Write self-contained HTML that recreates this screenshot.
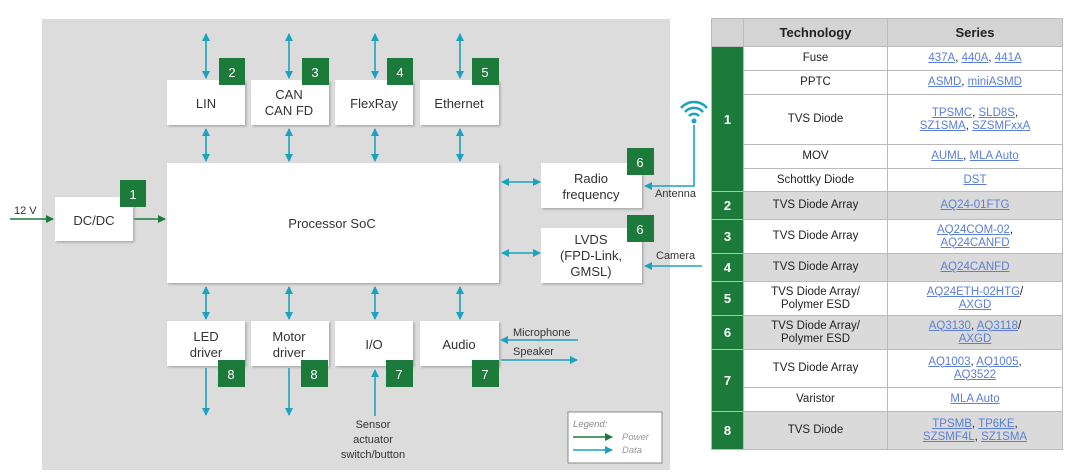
<!DOCTYPE html>
<html><head><meta charset="utf-8"><style>
body{margin:0;width:1080px;height:474px;background:#fff;overflow:hidden;font-family:"Liberation Sans",sans-serif}
svg{position:absolute;left:0;top:0}
table{position:absolute;left:711px;top:18px;border-collapse:collapse;font-size:11.5px;color:#222}
td{border:1px solid #bbb;text-align:center;padding:0;line-height:13px}
td.n{background:#1c7a3a;color:#fff;font-weight:bold;font-size:13px;width:29px;border-color:#bbb}
td.t{width:143px}
td.s{width:174px}
a{color:#5b7ed6;text-decoration:underline}
tr.g td.t,tr.g td.s{background:#dadada}
th{background:#d4d4d4;border:1px solid #bbb;font-size:13px;height:25px}
</style></head><body>
<svg width="1080" height="474">
<defs>
<marker id="b" markerWidth="8" markerHeight="8" refX="7" refY="4" orient="auto-start-reverse" markerUnits="userSpaceOnUse"><path d="M0,0 L8,4 L0,8z" fill="#1aa3c0"/></marker>
<marker id="g" markerWidth="8" markerHeight="8" refX="7" refY="4" orient="auto" markerUnits="userSpaceOnUse"><path d="M0,0 L8,4 L0,8z" fill="#1c7a3a"/></marker>
<filter id="sh"><feDropShadow dx="1.5" dy="1.5" stdDeviation="1" flood-color="#888" flood-opacity="0.6"/></filter>
</defs>
<rect x="42" y="19" width="628" height="451" fill="#dcdcdc"/>
<g stroke="#1aa3c0" stroke-width="1.6" fill="none">
<line x1="206" y1="34" x2="206" y2="78" marker-start="url(#b)" marker-end="url(#b)"/>
<line x1="289" y1="34" x2="289" y2="78" marker-start="url(#b)" marker-end="url(#b)"/>
<line x1="375" y1="34" x2="375" y2="78" marker-start="url(#b)" marker-end="url(#b)"/>
<line x1="460" y1="34" x2="460" y2="78" marker-start="url(#b)" marker-end="url(#b)"/>
<line x1="206" y1="129" x2="206" y2="161" marker-start="url(#b)" marker-end="url(#b)"/>
<line x1="289" y1="129" x2="289" y2="161" marker-start="url(#b)" marker-end="url(#b)"/>
<line x1="375" y1="129" x2="375" y2="161" marker-start="url(#b)" marker-end="url(#b)"/>
<line x1="460" y1="129" x2="460" y2="161" marker-start="url(#b)" marker-end="url(#b)"/>
<line x1="206" y1="287" x2="206" y2="319" marker-start="url(#b)" marker-end="url(#b)"/>
<line x1="289" y1="287" x2="289" y2="319" marker-start="url(#b)" marker-end="url(#b)"/>
<line x1="375" y1="287" x2="375" y2="319" marker-start="url(#b)" marker-end="url(#b)"/>
<line x1="460" y1="287" x2="460" y2="319" marker-start="url(#b)" marker-end="url(#b)"/>
<line x1="502" y1="182" x2="540" y2="182" marker-start="url(#b)" marker-end="url(#b)"/>
<line x1="502" y1="253" x2="540" y2="253" marker-start="url(#b)" marker-end="url(#b)"/>
<line x1="206" y1="368" x2="206" y2="415" marker-end="url(#b)"/>
<line x1="289" y1="368" x2="289" y2="415" marker-end="url(#b)"/>
<line x1="375" y1="416" x2="375" y2="370" marker-end="url(#b)"/>
<line x1="578" y1="340" x2="501" y2="340" marker-end="url(#b)"/>
<line x1="501" y1="360" x2="577" y2="360" marker-end="url(#b)"/>
<polyline points="694,125 694,186 645,186" marker-end="url(#b)"/>
<line x1="702" y1="266" x2="645" y2="266" marker-end="url(#b)"/>
</g>
<g stroke="#1c7a3a" stroke-width="1.6">
<line x1="10" y1="219" x2="53" y2="219" marker-end="url(#g)"/>
<line x1="134" y1="219" x2="165" y2="219" marker-end="url(#g)"/>
</g>
<g fill="#1aa3c0"><circle cx="694" cy="121" r="2.5"/></g>
<g stroke="#1aa3c0" stroke-width="2.5" fill="none">
<path d="M689,116 A7,7 0 0 1 699,116"/><path d="M685,112 A12,12 0 0 1 703,112"/><path d="M681,108 A17,17 0 0 1 707,108"/>
</g>
<g fill="#fff" filter="url(#sh)">
<rect x="167" y="80" width="78" height="45"/><rect x="251" y="80" width="78" height="45"/><rect x="335" y="80" width="78" height="45"/><rect x="420" y="80" width="79" height="45"/>
<rect x="167" y="163" width="332" height="120"/>
<rect x="55" y="197" width="78" height="44"/>
<rect x="541" y="163" width="101" height="45"/><rect x="541" y="228" width="101" height="55"/>
<rect x="167" y="321" width="78" height="45"/><rect x="251" y="321" width="78" height="45"/><rect x="335" y="321" width="78" height="45"/><rect x="420" y="321" width="79" height="45"/>
</g>
<g fill="#1c7a3a">
<rect x="219" y="58" width="26" height="27"/><rect x="302" y="58" width="27" height="27"/><rect x="387" y="58" width="26" height="27"/><rect x="472" y="58" width="27" height="27"/>
<rect x="120" y="180" width="26" height="27"/>
<rect x="627" y="148" width="27" height="27"/><rect x="627" y="215" width="27" height="27"/>
<rect x="218" y="360" width="27" height="27"/><rect x="301" y="360" width="27" height="27"/><rect x="386" y="360" width="27" height="27"/><rect x="472" y="360" width="27" height="27"/>
</g>
<g fill="#fff" font-size="13" text-anchor="middle">
<text x="232" y="77">2</text><text x="315" y="77">3</text><text x="400" y="77">4</text><text x="485" y="77">5</text>
<text x="133" y="199">1</text><text x="640" y="167">6</text><text x="640" y="234">6</text>
<text x="231" y="379">8</text><text x="314" y="379">8</text><text x="399" y="379">7</text><text x="485" y="379">7</text>
</g>
<g fill="#333" font-size="13" text-anchor="middle">
<text x="206" y="108">LIN</text><text x="289" y="99">CAN</text><text x="289" y="115">CAN FD</text><text x="374" y="108">FlexRay</text><text x="459" y="108">Ethernet</text>
<text x="94" y="225">DC/DC</text><text x="332" y="228">Processor SoC</text>
<text x="591" y="183">Radio</text><text x="591" y="199">frequency</text>
<text x="591" y="244">LVDS</text><text x="591" y="260">(FPD-Link,</text><text x="591" y="276">GMSL)</text>
<text x="206" y="341">LED</text><text x="206" y="357">driver</text><text x="289" y="341">Motor</text><text x="289" y="357">driver</text>
<text x="374" y="349">I/O</text><text x="459" y="349">Audio</text>
</g>
<g fill="#333" font-size="11">
<text x="14" y="214">12 V</text>
<text x="655" y="197">Antenna</text><text x="656" y="259">Camera</text>
<text x="513" y="336">Microphone</text><text x="513" y="355">Speaker</text>
<text x="373" y="428" text-anchor="middle">Sensor</text><text x="373" y="443" text-anchor="middle">actuator</text><text x="373" y="458" text-anchor="middle">switch/button</text>
</g>
<rect x="568" y="412" width="94" height="51" fill="#fff" stroke="#888"/>
<text x="573" y="427" font-size="9.5" font-style="italic" fill="#888">Legend:</text>
<line x1="573" y1="437" x2="612" y2="437" stroke="#1c7a3a" stroke-width="1.4" marker-end="url(#g)"/>
<line x1="573" y1="450" x2="612" y2="450" stroke="#1aa3c0" stroke-width="1.4" marker-end="url(#b)"/>
<text x="622" y="440" font-size="9.5" font-style="italic" fill="#999">Power</text>
<text x="622" y="453" font-size="9.5" font-style="italic" fill="#999">Data</text>
</svg>
<table>
<tr><th style="width:29px"></th><th>Technology</th><th>Series</th></tr>
<tr style="height:24px"><td class="n" rowspan="5">1</td><td class="t">Fuse</td><td class="s"><a>437A</a>, <a>440A</a>, <a>441A</a></td></tr>
<tr style="height:24px"><td class="t">PPTC</td><td class="s"><a>ASMD</a>, <a>miniASMD</a></td></tr>
<tr style="height:50px"><td class="t">TVS Diode</td><td class="s"><a>TPSMC</a>, <a>SLD8S</a>,<br><a>SZ1SMA</a>, <a>SZSMFxxA</a></td></tr>
<tr style="height:24px"><td class="t">MOV</td><td class="s"><a>AUML</a>, <a>MLA Auto</a></td></tr>
<tr style="height:23px"><td class="t">Schottky Diode</td><td class="s"><a>DST</a></td></tr>
<tr class="g" style="height:28px"><td class="n">2</td><td class="t">TVS Diode Array</td><td class="s"><a>AQ24-01FTG</a></td></tr>
<tr style="height:34px"><td class="n">3</td><td class="t">TVS Diode Array</td><td class="s"><a>AQ24COM-02</a>,<br><a>AQ24CANFD</a></td></tr>
<tr class="g" style="height:28px"><td class="n">4</td><td class="t">TVS Diode Array</td><td class="s"><a>AQ24CANFD</a></td></tr>
<tr style="height:34px"><td class="n">5</td><td class="t">TVS Diode Array/<br>Polymer ESD</td><td class="s"><a>AQ24ETH-02HTG</a>/<br><a>AXGD</a></td></tr>
<tr class="g" style="height:34px"><td class="n">6</td><td class="t">TVS Diode Array/<br>Polymer ESD</td><td class="s"><a>AQ3130</a>, <a>AQ3118</a>/<br><a>AXGD</a></td></tr>
<tr style="height:38px"><td class="n" rowspan="2">7</td><td class="t">TVS Diode Array</td><td class="s"><a>AQ1003</a>, <a>AQ1005</a>,<br><a>AQ3522</a></td></tr>
<tr style="height:24px"><td class="t">Varistor</td><td class="s"><a>MLA Auto</a></td></tr>
<tr class="g" style="height:38px"><td class="n">8</td><td class="t">TVS Diode</td><td class="s"><a>TPSMB</a>, <a>TP6KE</a>,<br><a>SZSMF4L</a>, <a>SZ1SMA</a></td></tr>
</table>
</body></html>
